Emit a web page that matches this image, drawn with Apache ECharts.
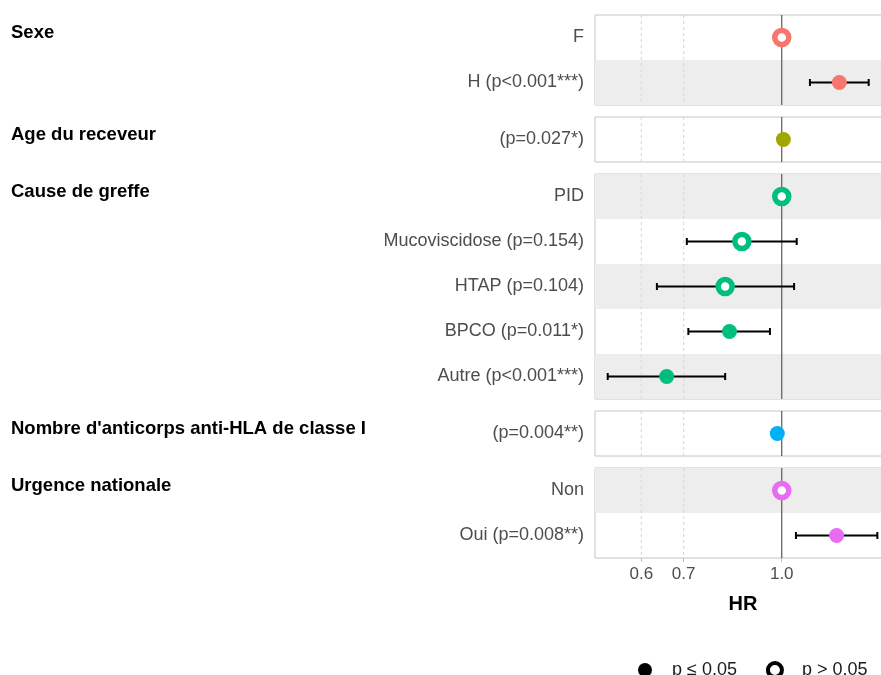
<!DOCTYPE html>
<html>
<head>
<meta charset="utf-8">
<script src="https://cdn.jsdelivr.net/npm/echarts@6/dist/echarts.min.js"></script>
<style>
  html, body { margin: 0; padding: 0; background: #fff; overflow: hidden; }
  /* the plot panels run slightly past the right edge of the window */
  #chart { width: 891px; height: 675px; }
</style>
</head>
<body>
<div id="chart"></div>
<script>
// Cox model: hazard ratios with 95% CI, one panel per variable
const groupNames = ['Sexe', 'Age du receveur', 'Cause de greffe', "Nombre d'anticorps anti-HLA de classe I", 'Urgence nationale'];
const rowLabels = [
  ['F', 'H (p<0.001***)'],
  ['(p=0.027*)'],
  ['PID', 'Mucoviscidose (p=0.154)', 'HTAP (p=0.104)', 'BPCO (p=0.011*)', 'Autre (p<0.001***)'],
  ['(p=0.004**)'],
  ['Non', 'Oui (p=0.008**)']
];
const hr     = [[1.0, 1.233], [1.006], [1.0, 0.865, 0.814, 0.827, 0.658], [0.984], [1.0, 1.221]];
const ciLow  = [[null, 1.108], [1.003], [null, 0.708, 0.635, 0.712, 0.531], [0.979], [null, 1.053]];
const ciHigh = [[null, 1.372], [1.009], [null, 1.056, 1.046, 0.958, 0.814], [0.989], [null, 1.416]];
const significant = [[false, true], [true], [false, false, false, true, true], [true], [false, true]];
const tickValues = [0.6, 0.7, 1.0];
const xLimits = [0.507, 1.488];
const legendLabels = ['p \u2264 0.05', 'p > 0.05'];

// styling
const groupColors = ['#F8766D', '#A3A500', '#00BF7D', '#00B0F6', '#E76BF3'];
const FONT = '"Liberation Sans", Arial, sans-serif';
const ROW_H = 45;
const PANEL_GAP = 12;
const TOP = 15;
const LEFT = 595;
const PANEL_W = 296;

const lnMin = Math.log(xLimits[0]);
const lnMax = Math.log(xLimits[1]);
const lnTicks = tickValues.map(Math.log);

const grids = [], xAxes = [], yAxes = [], series = [], graphics = [];
let y = TOP;
let globalRow = 0;

rowLabels.forEach((labels, g) => {
  const h = labels.length * ROW_H;
  const last = g === rowLabels.length - 1;
  grids.push({ left: LEFT, width: PANEL_W, top: y, height: h, show: true, borderColor: '#C4C4C4', borderWidth: 1, backgroundColor: 'transparent' });
  xAxes.push({
    type: 'value', gridIndex: g, min: lnMin, max: lnMax,
    axisLine: { show: false }, splitLine: { show: false },
    axisTick: { show: last, customValues: lnTicks, length: 4, lineStyle: { color: '#BDBDBD' } },
    axisLabel: {
      show: last, customValues: lnTicks, margin: 8,
      formatter: v => Math.exp(v).toFixed(1),
      color: '#4D4D4D', fontSize: 17, fontFamily: FONT
    },
    name: last ? 'HR' : '', nameLocation: 'middle', nameGap: 36,
    nameTextStyle: { fontSize: 20, fontWeight: 'bold', color: '#000', fontFamily: FONT }
  });
  yAxes.push({
    type: 'category', gridIndex: g, inverse: true, data: labels,
    axisLine: { show: false }, axisTick: { show: false }, splitLine: { show: false },
    axisLabel: { margin: 11, color: '#4D4D4D', fontSize: 18, fontFamily: FONT }
  });

  // alternating row shading
  const stripes = [];
  labels.forEach((_, i) => { if ((globalRow + i) % 2 === 1) stripes.push([lnMin, i]); });
  globalRow += labels.length;
  series.push({
    type: 'custom', xAxisIndex: g, yAxisIndex: g, silent: true, z: 1,
    encode: { x: 0, y: 1 }, data: stripes,
    renderItem: (params, api) => {
      const p0 = api.coord([lnMin, api.value(1)]);
      const p1 = api.coord([lnMax, api.value(1)]);
      const bh = api.size([0, 1])[1];
      return { type: 'rect', shape: { x: p0[0], y: p0[1] - bh / 2, width: p1[0] - p0[0], height: bh }, style: { fill: '#EDEDED' } };
    }
  });

  // vertical guides: dashed at 0.6 / 0.7, solid at 1.0
  series.push({
    type: 'custom', xAxisIndex: g, yAxisIndex: g, silent: true, z: 2,
    encode: { x: 0 }, data: lnTicks.map(v => [v]),
    renderItem: (params, api) => {
      const x = api.coord([api.value(0), 0])[0];
      const cs = params.coordSys;
      const isRef = Math.abs(api.value(0)) < 1e-9;
      return {
        type: 'line',
        shape: { x1: x, y1: cs.y, x2: x, y2: cs.y + cs.height },
        style: isRef ? { stroke: '#595959', lineWidth: 1.2 } : { stroke: '#D6D6D6', lineWidth: 1, lineDash: [3, 3] }
      };
    }
  });

  // confidence intervals
  const ci = [];
  labels.forEach((_, i) => { if (ciLow[g][i] != null) ci.push([Math.log(ciLow[g][i]), Math.log(ciHigh[g][i]), i]); });
  series.push({
    type: 'custom', xAxisIndex: g, yAxisIndex: g, silent: true, z: 3,
    encode: { x: [0, 1], y: 2 }, data: ci,
    renderItem: (params, api) => {
      const lo = api.coord([api.value(0), api.value(2)]);
      const hi = api.coord([api.value(1), api.value(2)]);
      const cap = 3.5;
      const st = { stroke: '#000', lineWidth: 2 };
      return {
        type: 'group', children: [
          { type: 'line', shape: { x1: lo[0], y1: lo[1], x2: hi[0], y2: hi[1] }, style: st },
          { type: 'line', shape: { x1: lo[0], y1: lo[1] - cap, x2: lo[0], y2: lo[1] + cap }, style: st },
          { type: 'line', shape: { x1: hi[0], y1: hi[1] - cap, x2: hi[0], y2: hi[1] + cap }, style: st }
        ]
      };
    }
  });

  // point estimates
  const filled = [], open = [];
  labels.forEach((_, i) => { (significant[g][i] ? filled : open).push([Math.log(hr[g][i]), i]); });
  series.push({
    type: 'scatter', name: legendLabels[0], xAxisIndex: g, yAxisIndex: g, z: 4,
    symbol: 'circle', symbolSize: 15, data: filled,
    itemStyle: { color: groupColors[g], opacity: 1 }
  });
  series.push({
    type: 'scatter', name: legendLabels[1], xAxisIndex: g, yAxisIndex: g, z: 4,
    symbol: 'circle', symbolSize: 14, data: open,
    itemStyle: { color: '#fff', borderColor: groupColors[g], borderWidth: 5.5, opacity: 1 }
  });

  graphics.push({
    type: 'text', left: 11, top: y + 8, silent: true,
    style: { text: groupNames[g], fill: '#000', font: 'bold 18.5px ' + FONT }
  });

  y += h + PANEL_GAP;
});

const chart = echarts.init(document.getElementById('chart'), null, { renderer: 'canvas' });
chart.setOption({
  animation: false,
  backgroundColor: '#fff',
  grid: grids,
  xAxis: xAxes,
  yAxis: yAxes,
  series: series,
  graphic: graphics,
  legend: {
    left: 633, top: 656, itemGap: 29, itemWidth: 44, itemHeight: 14,
    selectedMode: false,
    textStyle: { fontSize: 18, color: '#1A1A1A', fontFamily: FONT },
    data: [
      { name: legendLabels[0], icon: 'circle', itemStyle: { color: '#000', borderWidth: 0 } },
      { name: legendLabels[1], icon: 'circle', itemStyle: { color: '#fff', borderColor: '#000', borderWidth: 4 } }
    ]
  }
});
</script>
</body>
</html>
